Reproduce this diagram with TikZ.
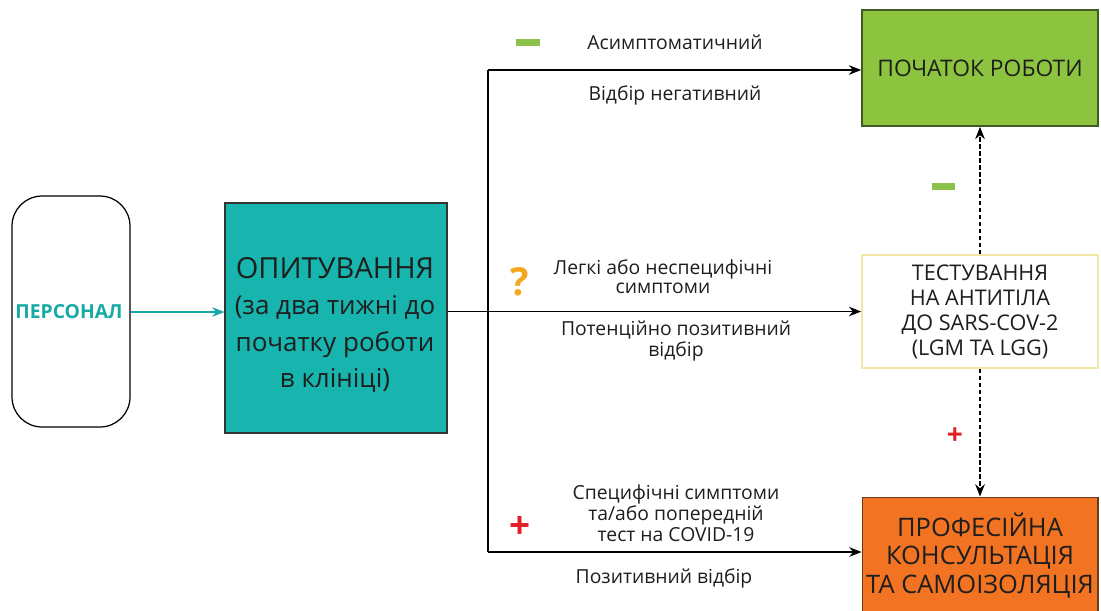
\documentclass[tikz,border=0pt]{standalone}
\usepackage{fontspec}
\setmainfont{Open Sans}
\usetikzlibrary{arrows.meta}
\definecolor{tealbox}{HTML}{17B5AE}
\definecolor{tealtxt}{HTML}{16A9A5}
\definecolor{greenbox}{HTML}{8DC43F}
\definecolor{greenborder}{HTML}{3F5A22}
\definecolor{orangebox}{HTML}{F27321}
\definecolor{orangeborder}{HTML}{6B3A1A}
\definecolor{yellowborder}{HTML}{F1E7A6}
\definecolor{minusgreen}{HTML}{8BC34A}
\definecolor{plusred}{HTML}{E3202A}
\definecolor{qorange}{HTML}{F3A81F}
\definecolor{txt}{HTML}{1E1E1E}
\tikzset{
  box/.style={rectangle, inner sep=0pt, align=center, text=txt},
  arr/.style={draw=black, line width=0.7pt, -{Stealth[length=7pt,width=5.5pt]}},
  plain/.style={draw=black, line width=0.7pt},
  dasharr/.style={draw=black, line width=0.6pt, dash pattern=on 2.5pt off 1.5pt, -{Stealth[length=7pt,width=5.5pt]}},
  lbl/.style={align=center, inner sep=0pt, text=txt, font=\fontsize{11}{11}\selectfont},
  boxfont/.style={font=\fontsize{13}{14.2}\selectfont}
}
\begin{document}
\begin{tikzpicture}[x=0.02cm,y=-0.02cm]
\useasboundingbox (0,0) rectangle (1101,610);
\fill[white] (0,0) rectangle (1101,610);

% left boxes
\node[box, draw=black, line width=0.7pt, rounded corners=0.6cm, minimum width=2.36cm, minimum height=4.62cm] (pers) at (71,311.5) {};
\node[text=tealtxt, inner sep=0pt, font=\fontsize{11}{11}\selectfont\bfseries] (perstxt) at (69,312) {ПЕРСОНАЛ};
\node[box, fill=tealbox, draw=black!80, line width=0.7pt, minimum width=4.44cm, minimum height=4.6cm] (opit) at (336,318) {};
\node[box, text=txt, font=\fontsize{14.8}{20.8}\selectfont] (opittxt) at (335,325) {{\fontsize{16.5}{20.8}\selectfont ОПИТУВАННЯ}\\
  (за два тижні до\\ початку роботи\\ в клініці)};

% right boxes
\node[box, fill=greenbox, draw=greenborder, line width=1pt, minimum width=4.72cm, minimum height=2.32cm, boxfont] (green) at (980,68) {ПОЧАТОК РОБОТИ};
\node[box, fill=white, draw=yellowborder, line width=1pt, minimum width=4.72cm, minimum height=2.26cm, font=\fontsize{12.3}{14.2}\selectfont] (test) at (980,311.5) {ТЕСТУВАННЯ\\НА АНТИТІЛА\\ДО SARS-COV-2\\(LGM ТА LGG)};
\node[box, fill=orangebox, draw=orangeborder, line width=0.6pt, minimum width=4.72cm, minimum height=2.34cm, font=\fontsize{14.5}{16.2}\selectfont, text=txt] (orange) at (980,555.5) {ПРОФЕСІЙНА\\КОНСУЛЬТАЦІЯ\\ТА САМОІЗОЛЯЦІЯ};

% connectors
\draw[arr, draw=tealtxt, line width=0.6pt] (pers.east |- 0,312) coordinate (pe) -- (opit.west |- pe);
\coordinate (jt) at (488,70);
\coordinate (jb) at (488,552);
\draw[arr] (opit.east |- test.west) -- (test.west);
\draw[plain] (jt) -- (jb);
\draw[arr] (jt) -- (green.west |- jt);
\draw[arr] (jb) -- (orange.west |- jb);
\draw[dasharr] (test.north) -- (green.south);
\draw[dasharr] (test.south) -- (orange.north);

% markers
\fill[minusgreen] (516,39) rectangle (540,46);
\fill[minusgreen] (932,183) rectangle (955,190);
\node[text=qorange, inner sep=0pt, font=\fontsize{22}{22}\selectfont\bfseries] (q) at (520,282) {?};
\node[text=plusred, inner sep=0pt, font=\fontsize{21}{21}\selectfont\bfseries] (plus1) at (520,527) {+};
\node[text=plusred, inner sep=0pt, font=\fontsize{16}{16}\selectfont\bfseries] (plus2) at (955,436) {+};

% labels
\node[lbl] (l1) at (675,42) {Асимптоматичний};
\node[lbl] (l2) at (675,95) {Відбір негативний};
\node[lbl, font=\fontsize{11}{10.8}\selectfont] (l3) at (663,277) {Легкі або неспецифічні\\симптоми};
\node[lbl, font=\fontsize{11}{10.2}\selectfont] (l4) at (676,341) {Потенційно позитивний\\відбір};
\node[lbl, font=\fontsize{11}{9.2}\selectfont] (l5) at (676,513) {Специфічні симптоми\\та/або попередній\\тест на COVID-19};
\node[lbl] (l6) at (664,578) {Позитивний відбір};
\end{tikzpicture}
\end{document}
